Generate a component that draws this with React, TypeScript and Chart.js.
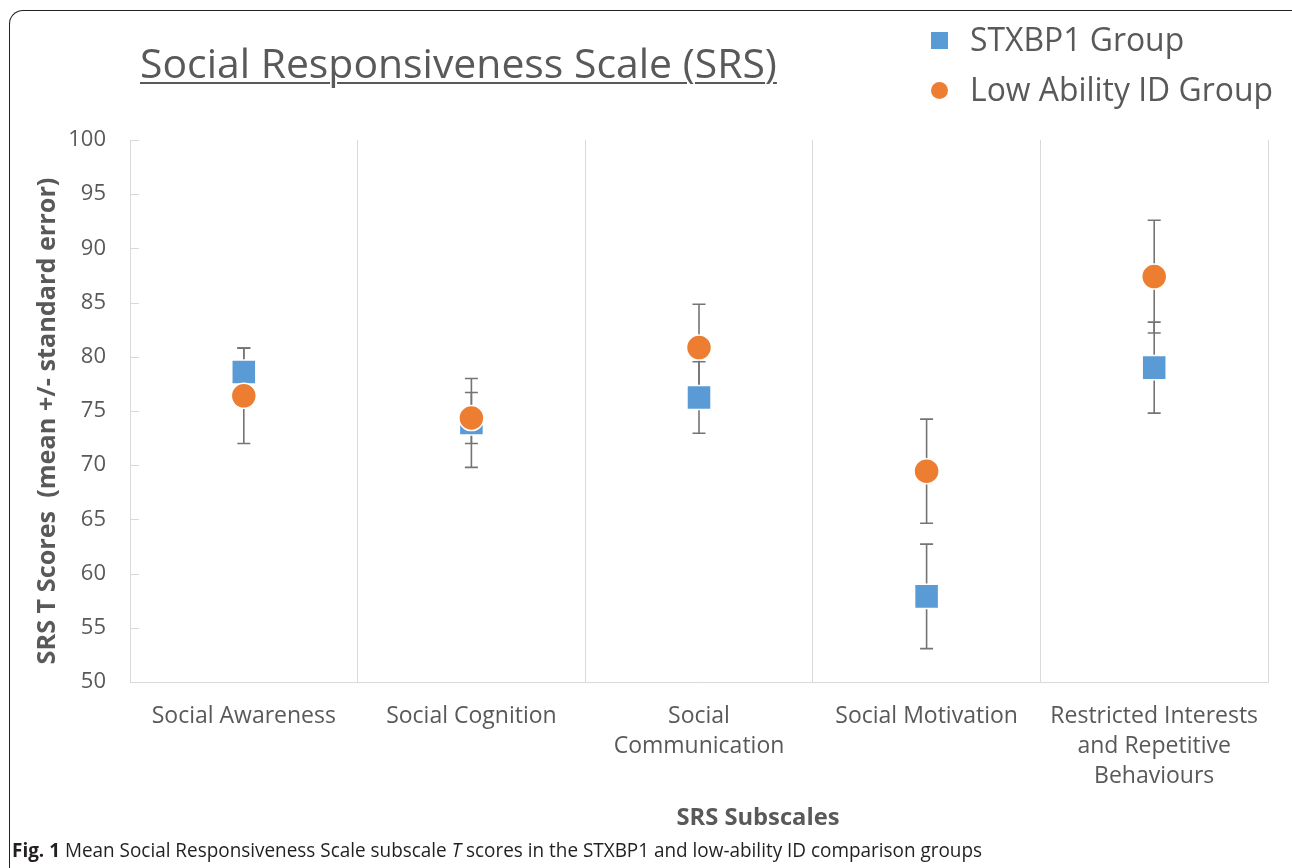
import React, { useEffect, useRef, useMemo } from 'react';
import { Chart, registerables } from 'chart.js';

Chart.register(...registerables);

// ---------- data ----------
const categories: (string | string[])[] = [
  'Social Awareness',
  'Social Cognition',
  ['Social', 'Communication'],
  'Social Motivation',
  ['Restricted Interests', 'and Repetitive', 'Behaviours'],
];
const seriesNames = ['STXBP1 Group', 'Low Ability ID Group'];
const stxbp1Mean = [78.6, 73.9, 76.25, 57.9, 79.0];
const stxbp1Se = [2.2, 4.1, 3.3, 4.82, 4.2];
const lowIdMean = [76.4, 74.35, 80.85, 69.45, 87.4];
const lowIdSe = [4.4, 2.35, 4.0, 4.8, 5.2];
const yMin = 50;
const yMax = 100;
const yStep = 5;
const chartTitle = 'Social Responsiveness Scale (SRS)';
const yAxisTitle = 'SRS T Scores  (mean +/- standard error)';
const xAxisTitle = 'SRS Subscales';

const BLUE = '#5B9BD5';
const ORANGE = '#ED7D31';
const TEXT = '#595959';
const GRID = '#d9d9d9';
const FONT = '"Open Sans", sans-serif';

function measure(font: string, text: string): number {
  const c = document.createElement('canvas').getContext('2d');
  if (!c) return 1;
  c.font = font;
  return c.measureText(text).width;
}

const errorBarPlugin = {
  id: 'errorBars',
  beforeDatasetsDraw(chart: any) {
    const ctx = chart.ctx;
    const y = chart.scales.y;
    const area = chart.chartArea;
    ctx.save();
    // inward tick marks on the value axis
    ctx.strokeStyle = GRID;
    ctx.lineWidth = 1;
    y.ticks.forEach((t: any) => {
      const py = Math.round(y.getPixelForValue(t.value)) + 0.5;
      ctx.beginPath();
      ctx.moveTo(area.left, py);
      ctx.lineTo(area.left + 9, py);
      ctx.stroke();
    });
    // error bars
    ctx.strokeStyle = '#747474';
    ctx.lineWidth = 1.6;
    chart.data.datasets.forEach((ds: any, di: number) => {
      const meta = chart.getDatasetMeta(di);
      meta.data.forEach((pt: any, i: number) => {
        const v = ds.data[i];
        const e = ds.errors[i];
        const x = pt.x;
        const yt = y.getPixelForValue(v + e);
        const yb = y.getPixelForValue(v - e);
        ctx.beginPath();
        ctx.moveTo(x, yt);
        ctx.lineTo(x, yb);
        ctx.moveTo(x - 6.5, yt);
        ctx.lineTo(x + 6.5, yt);
        ctx.moveTo(x - 6.5, yb);
        ctx.lineTo(x + 6.5, yb);
        ctx.stroke();
      });
    });
    ctx.restore();
  },
};

export default function App() {
  const canvasRef = useRef<HTMLCanvasElement | null>(null);

  const sizes = useMemo(() => {
    const titleW = measure(`40px ${FONT}`, chartTitle);
    const titleSize = (40 * 637) / titleW;
    const legW = measure(`28px ${FONT}`, seriesNames[1]);
    const legSize = (28 * 303) / legW;
    const yTitleW = measure(`bold 24px ${FONT}`, yAxisTitle);
    const yTitleSize = (24 * 487) / yTitleW;
    const xTitleW = measure(`bold 24px ${FONT}`, xAxisTitle);
    const xTitleSize = (24 * 163) / xTitleW;
    const capW =
      measure(`bold 20px ${FONT}`, 'Fig. 1') +
      measure(`20px ${FONT}`, ' Mean Social Responsiveness Scale subscale ') +
      measure(`italic 20px ${FONT}`, 'T') +
      measure(`20px ${FONT}`, ' scores in the STXBP1 and low-ability ID comparison groups');
    const capScale = 970 / capW;
    return { titleSize, legSize, capScale, yTitleSize, xTitleSize };
  }, []);

  useEffect(() => {
    const canvas = canvasRef.current;
    if (!canvas) return;
    const chart = new Chart(canvas, {
      type: 'line',
      data: {
        labels: categories as any,
        datasets: [
          {
            label: seriesNames[0],
            data: stxbp1Mean,
            errors: stxbp1Se,
            showLine: false,
            pointStyle: 'rect',
            pointRadius: 17,
            backgroundColor: BLUE,
            borderColor: '#ffffff',
            pointBorderWidth: 1.5,
            order: 1,
          } as any,
          {
            label: seriesNames[1],
            data: lowIdMean,
            errors: lowIdSe,
            showLine: false,
            pointStyle: 'circle',
            pointRadius: 12.5,
            backgroundColor: ORANGE,
            borderColor: '#ffffff',
            pointBorderWidth: 1.5,
            order: 0,
          } as any,
        ],
      },
      options: {
        animation: false,
        responsive: false,
        events: [],
        layout: { padding: { left: 0, top: 140, right: 24, bottom: 0 } },
        plugins: {
          legend: { display: false },
          tooltip: { enabled: false },
          title: { display: false },
        },
        scales: {
          x: {
            type: 'category',
            offset: true,
            grid: { display: true, offset: true, color: GRID, drawTicks: false, lineWidth: 1 },
            border: { display: true, color: GRID },
            ticks: {
              color: TEXT,
              font: { family: FONT, size: 23, lineHeight: 30 / 23 },
              padding: 19,
              maxRotation: 0,
              autoSkip: false,
            },
            afterFit: (s: any) => {
              s.height = 186;
            },
          },
          y: {
            min: yMin,
            max: yMax,
            grid: { display: false, drawTicks: false },
            border: { display: true, color: GRID },
            ticks: {
              stepSize: yStep,
              color: TEXT,
              font: { family: FONT, size: 22 },
              padding: 24,
            },
            afterFit: (s: any) => {
              s.width = 130;
            },
          },
        },
      } as any,
      plugins: [errorBarPlugin],
    });
    return () => chart.destroy();
  }, []);

  const titleAscent = sizes.titleSize * 1.069;

  return (
    <div
      style={{
        position: 'absolute',
        left: 0,
        top: 0,
        width: 1292,
        height: 868,
        overflow: 'hidden',
        background: '#ffffff',
        fontFamily: FONT,
      }}
    >
      <canvas
        ref={canvasRef}
        width={1292}
        height={868}
        style={{ position: 'absolute', left: 0, top: 0, width: 1292, height: 868 }}
      />
      {/* frame */}
      <div
        style={{
          position: 'absolute',
          left: 9,
          top: 10,
          width: 1300,
          height: 900,
          borderTop: '1.5px solid #222',
          borderLeft: '1.5px solid #222',
          borderTopLeftRadius: 14,
          boxSizing: 'border-box',
          pointerEvents: 'none',
        }}
      />
      {/* title */}
      <div
        style={{
          position: 'absolute',
          left: 140,
          top: 79 - titleAscent,
          fontSize: sizes.titleSize,
          lineHeight: `${sizes.titleSize * 1.362}px`,
          color: TEXT,
          whiteSpace: 'nowrap',
          textDecoration: 'underline',
          textDecorationThickness: 2,
          textUnderlineOffset: 4,
        }}
      >
        {chartTitle}
      </div>
      {/* legend */}
      {[0, 1].map((i) => (
        <React.Fragment key={i}>
          <div
            style={{
              position: 'absolute',
              left: 931,
              top: (i === 0 ? 40 : 90) - 8.5,
              width: 17,
              height: 17,
              background: i === 0 ? BLUE : ORANGE,
              borderRadius: i === 0 ? 0 : '50%',
            }}
          />
          <div
            style={{
              position: 'absolute',
              left: 970,
              top: (i === 0 ? 40 : 90) - 20,
              fontSize: sizes.legSize,
              lineHeight: '38px',
              color: TEXT,
              whiteSpace: 'nowrap',
            }}
          >
            {seriesNames[i]}
          </div>
        </React.Fragment>
      ))}
      {/* y axis title */}
      <div
        style={{
          position: 'absolute',
          left: 45 - 300,
          top: 421 - 17,
          width: 600,
          height: 34,
          lineHeight: '34px',
          textAlign: 'center',
          fontSize: sizes.yTitleSize,
          fontWeight: 'bold',
          color: TEXT,
          whiteSpace: 'pre',
          transform: 'rotate(-90deg)',
          transformOrigin: '50% 50%',
        }}
      >
        {yAxisTitle}
      </div>
      {/* x axis title */}
      <div
        style={{
          position: 'absolute',
          left: 758 - 150,
          width: 300,
          top: 816 - 17,
          textAlign: 'center',
          fontSize: sizes.xTitleSize,
          fontWeight: 'bold',
          lineHeight: '34px',
          color: TEXT,
        }}
      >
        {xAxisTitle}
      </div>
      {/* caption */}
      <div
        style={{
          position: 'absolute',
          left: 12,
          top: 838,
          fontSize: 20,
          lineHeight: '24px',
          color: '#231f20',
          whiteSpace: 'nowrap',
          transform: `scaleX(${sizes.capScale})`,
          transformOrigin: 'left center',
        }}
      >
        <b>Fig. 1</b> Mean Social Responsiveness Scale subscale <i>T</i> scores in the STXBP1 and
        low-ability ID comparison groups
      </div>
    </div>
  );
}
